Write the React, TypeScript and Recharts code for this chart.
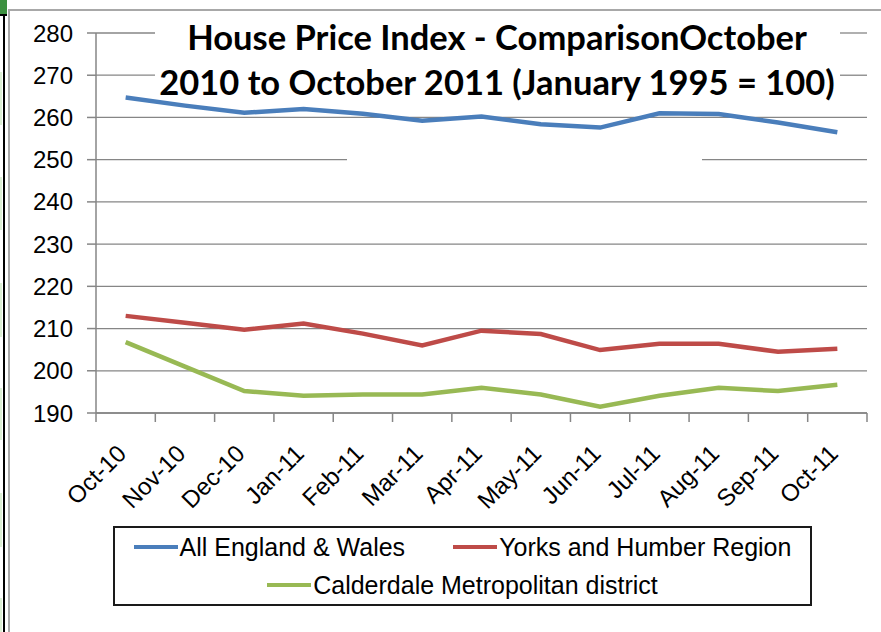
import React from 'react';
import { LineChart, Line, XAxis, YAxis, CartesianGrid, Legend } from 'recharts';

const months = ['Oct-10', 'Nov-10', 'Dec-10', 'Jan-11', 'Feb-11', 'Mar-11', 'Apr-11', 'May-11', 'Jun-11', 'Jul-11', 'Aug-11', 'Sep-11', 'Oct-11'];
const englandWales = [264.7, 262.8, 261.1, 262.0, 260.9, 259.2, 260.2, 258.4, 257.6, 261.0, 260.8, 258.8, 256.5];
const yorksHumber = [213.0, 211.4, 209.7, 211.2, 208.8, 206.0, 209.5, 208.7, 204.9, 206.4, 206.4, 204.5, 205.2];
const calderdale = [206.8, 201.0, 195.2, 194.1, 194.4, 194.4, 196.0, 194.4, 191.5, 194.1, 196.0, 195.2, 196.7];
const yTicks = [190, 200, 210, 220, 230, 240, 250, 260, 270, 280];
const seriesNames = ['All England & Wales', 'Yorks and Humber Region', 'Calderdale Metropolitan district'];
const titleLines = ['House Price Index - ComparisonOctober', '2010 to October 2011 (January 1995 = 100)'];

const data = months.map((m, i) => ({ i, month: m, ew: englandWales[i], yh: yorksHumber[i], cd: calderdale[i] }));
const labelTicks = months.map((_, i) => i);
const boundaryTicks = [...months.map((_, i) => i - 0.5), months.length - 0.5];

const AXIS = '#868686';
const FONT = '"Liberation Sans", Arial, sans-serif';

// pixel gaps in gridlines where the title box hides them (index: 0 = 190 ... 9 = 280)
const gridGaps: Record<number, [number, number]> = { 9: [155, 840], 8: [155, 840], 6: [347, 702] };

const renderGridLine = (props: any) => {
  const { x1, x2, y1, index } = props;
  const gap = gridGaps[index];
  if (!gap) return <line key={`g${index}`} x1={x1} x2={x2} y1={y1} y2={y1} stroke={AXIS} strokeWidth={1.3} />;
  return (
    <g key={`g${index}`}>
      <line x1={x1} x2={gap[0]} y1={y1} y2={y1} stroke={AXIS} strokeWidth={1.3} />
      <line x1={gap[1]} x2={x2} y1={y1} y2={y1} stroke={AXIS} strokeWidth={1.3} />
    </g>
  );
};

const EmptyTick = () => <g />;

const MonthTick = (props: any) => {
  const { x, y, payload } = props;
  const ax = x + 2;
  const ay = y + 33;
  return (
    <text x={ax} y={ay} textAnchor="end" transform={`rotate(-45 ${ax} ${ay})`} fontSize={24} fontFamily={FONT} fill="#000">
      {months[payload.value]}
    </text>
  );
};

const LegendItem = ({ entry }: any) => (
  <div style={{ display: 'flex', alignItems: 'center' }}>
    <div style={{ width: 44, height: 4.5, background: entry.color, marginRight: 2 }} />
    <span style={{ fontSize: 25, fontFamily: FONT, color: '#000', whiteSpace: 'nowrap' }}>{entry.value}</span>
  </div>
);

const LegendBox = (props: any) => {
  const payload = props.payload || [];
  const ordered = seriesNames.map((n) => payload.find((p: any) => p.value === n)).filter(Boolean);
  return (
    <div style={{ width: '100%', height: '100%', boxSizing: 'border-box', border: '2px solid #1a1a1a', background: '#fff' }}>
      <div style={{ height: 38, display: 'flex', justifyContent: 'center', alignItems: 'center', gap: 48 }}>
        {ordered.slice(0, 2).map((e: any) => <LegendItem key={e.value} entry={e} />)}
      </div>
      <div style={{ height: 38, display: 'flex', justifyContent: 'center', alignItems: 'center' }}>
        {ordered.slice(2).map((e: any) => <LegendItem key={e.value} entry={e} />)}
      </div>
    </div>
  );
};

const greenStrips = [[72, 125], [177, 230], [283, 337], [388, 440], [493, 547], [598, 632]];

export default function App() {
  return (
    <div style={{ position: 'absolute', left: 0, top: 0, width: 881, height: 632, background: '#fff', overflow: 'hidden' }}>
      {greenStrips.map(([a, b]) => (
        <div key={a} style={{ position: 'absolute', left: 0, top: a, width: 2, height: b - a, background: '#dcefd4' }} />
      ))}
      <div style={{ position: 'absolute', left: 0, top: 0, width: 7, height: 14, background: '#3d9140' }} />
      <div style={{ position: 'absolute', left: 0, top: 14, width: 7, height: 2, background: '#000' }} />
      <div style={{ position: 'absolute', left: 3, top: 14, width: 2, height: 620, background: '#000' }} />
      <div style={{ position: 'absolute', left: 8, top: 9, width: 900, height: 700, borderLeft: '2px solid #a8a8a8', borderTop: '2px solid #a8a8a8' }} />
      <div style={{ position: 'absolute', left: 0, top: 0 }}>
        <LineChart width={881} height={632} data={data} margin={{ top: 33, right: 14, left: 0, bottom: 100 }}>
          <CartesianGrid vertical={false} horizontal={renderGridLine} />
          <XAxis xAxisId="b" type="number" dataKey="i" domain={[-0.5, 12.5]} ticks={labelTicks} tick={<MonthTick />} tickLine={false} axisLine={false} tickSize={0} tickMargin={0} height={110} interval={0} allowDataOverflow />
          <XAxis xAxisId="a" type="number" dataKey="i" domain={[-0.5, 12.5]} ticks={boundaryTicks} tick={<EmptyTick />} tickSize={9} height={9} stroke={AXIS} strokeWidth={1.5} allowDataOverflow interval={0} />
          <YAxis domain={[190, 280]} ticks={yTicks} width={96} tickSize={9} tickMargin={14} stroke={AXIS} strokeWidth={1.5} interval={0} tick={{ fill: '#000', fontSize: 24, fontFamily: FONT }} />
          <Line xAxisId="b" name={seriesNames[0]} dataKey="ew" stroke="#4A7EBB" strokeWidth={4.5} dot={false} isAnimationActive={false} />
          <Line xAxisId="b" name={seriesNames[1]} dataKey="yh" stroke="#BE4B48" strokeWidth={4.5} dot={false} isAnimationActive={false} />
          <Line xAxisId="b" name={seriesNames[2]} dataKey="cd" stroke="#98B954" strokeWidth={4.5} dot={false} isAnimationActive={false} />
          <Legend layout="vertical" align="center" verticalAlign="middle" content={<LegendBox />} wrapperStyle={{ position: 'absolute', left: 113, top: 526, width: 699, height: 80 }} />
        </LineChart>
      </div>
      <div style={{ position: 'absolute', left: 297, top: 14, width: 400, display: 'flex', flexDirection: 'column', alignItems: 'center', fontFamily: 'Lato, sans-serif', fontWeight: 700, fontSize: 34.5, color: '#000', lineHeight: '45px', whiteSpace: 'nowrap' }}>
        {titleLines.map((t) => <div key={t}>{t}</div>)}
      </div>
    </div>
  );
}
